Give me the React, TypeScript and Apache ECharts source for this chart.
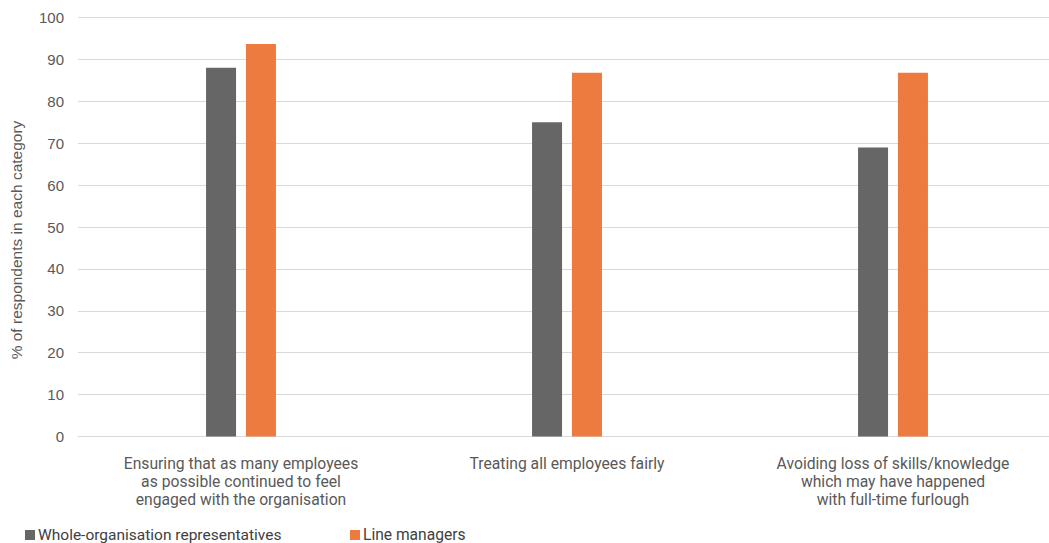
import React, { useEffect, useRef } from "react";
import * as echarts from "echarts";

const categories = [
  "Ensuring that as many employees\nas possible continued to feel\nengaged with the organisation",
  "Treating all employees fairly",
  "Avoiding loss of skills/knowledge\nwhich may have happened\nwith full-time furlough",
];
const seriesNames = ["Whole-organisation representatives", "Line managers"];
const wholeOrg = [88, 75, 69];
const lineManagers = [93.7, 86.8, 86.8];
const yAxisTitle = "% of respondents in each category";

export default function App() {
  const ref = useRef<HTMLDivElement>(null);
  useEffect(() => {
    document.body.style.margin = "0";
    const chart = echarts.init(ref.current!, null, { renderer: "svg" });
    const textColor = "#595959";
    chart.setOption({
      animation: false,
      grid: { left: 78, right: 0, top: 17.5, bottom: 106.5, containLabel: false },
      xAxis: {
        type: "category",
        data: categories,
        axisLine: { show: true, lineStyle: { color: "#D9D9D9", width: 1 } },
        axisTick: { show: false },
        axisLabel: {
          color: textColor,
          fontFamily: "Roboto, sans-serif",
          fontSize: 15.7,
          lineHeight: 18,
          margin: 18,
          interval: 0,
        },
      },
      yAxis: {
        type: "value",
        min: 0,
        max: 100,
        interval: 10,
        axisLine: { show: false },
        axisTick: { show: false },
        splitLine: { lineStyle: { color: "#D9D9D9", width: 1 } },
        axisLabel: {
          color: textColor,
          fontFamily: "Liberation Sans, Arial, sans-serif",
          fontSize: 15,
          margin: 14,
        },
      },
      graphic: [
        {
          type: "text",
          x: 16,
          y: 240,
          rotation: Math.PI / 2,
          style: {
            text: yAxisTitle,
            fill: textColor,
            font: "15.5px Liberation Sans, Arial, sans-serif",
            align: "center",
            verticalAlign: "middle",
          },
        },
      ],
      legend: [
        {
          data: [seriesNames[0]],
          left: 25,
          top: 527,
          padding: 0,
          icon: "rect",
          itemWidth: 10,
          itemHeight: 10,
          itemGap: 6,
          textStyle: { color: "#404040", fontSize: 15.5, fontFamily: "Roboto, sans-serif", padding: [0, 0, 0, -2] },
        },
        {
          data: [seriesNames[1]],
          left: 350,
          top: 527,
          padding: 0,
          icon: "rect",
          itemWidth: 10,
          itemHeight: 10,
          textStyle: { color: "#404040", fontSize: 15.6, fontFamily: "Roboto, sans-serif", padding: [0, 0, 0, -2] },
        },
      ],
      series: [
        {
          name: seriesNames[0],
          type: "bar",
          data: wholeOrg,
          barWidth: 30,
          barGap: "33%",
          itemStyle: { color: "#666666" },
        },
        {
          name: seriesNames[1],
          type: "bar",
          data: lineManagers,
          barWidth: 30,
          itemStyle: { color: "#ED7A3F" },
        },
      ],
    });
    return () => chart.dispose();
  }, []);
  return (
    <div style={{ position: "absolute", left: 0, top: 0, width: 1049, height: 543, overflow: "hidden" }}>
      <div ref={ref} style={{ position: "absolute", left: 0, top: 0, width: 1056, height: 543 }} />
    </div>
  );
}
